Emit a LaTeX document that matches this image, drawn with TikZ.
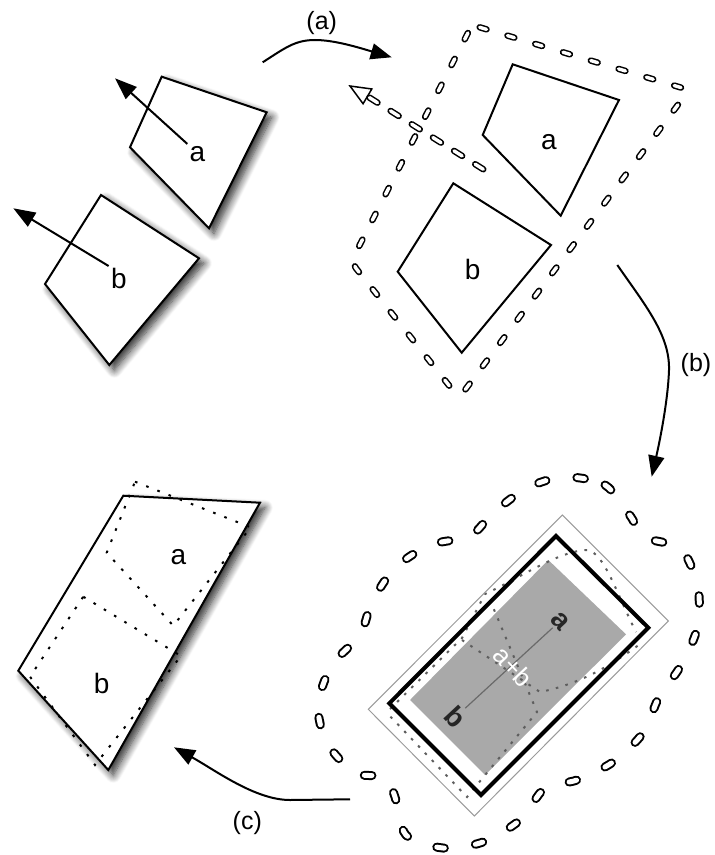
\documentclass[tikz,border=0pt]{standalone}
\usepackage{fontspec}
\setmainfont{Liberation Sans}
\usetikzlibrary{arrows.meta, shadows.blur}
\definecolor{fillgray}{HTML}{A9A9A9}
\definecolor{dotgray}{HTML}{5E5E5E}
\definecolor{boxgray}{HTML}{9A9A9A}
\definecolor{axisgray}{HTML}{6A6A6A}

\begin{document}
\begin{tikzpicture}[
    x=0.5pt, y=-0.5pt,
    piece/.style={
        draw=black, fill=white, line width=1pt, line join=miter,
        blur shadow={shadow xshift=2.5pt, shadow yshift=-2.5pt,
            shadow blur radius=4pt, shadow blur steps=10, shadow opacity=85}
    },
    outline/.style={draw=black, line width=1pt, line join=miter},
    capsule/.style={
        draw=black, line width=0.75pt, double=white, double distance=1.7pt,
        line cap=round, dash pattern=on 3.6pt off 10.9pt
    },
    bigcapsule/.style={
        draw=black, line width=1pt, double=white, double distance=2.5pt,
        line cap=round, dash pattern=on 3.8pt off 15.7pt
    },
    dotline/.style={draw=black, line width=1pt, dash pattern=on 1.3pt off 4.7pt},
    graydot/.style={draw=dotgray, line width=1pt, dash pattern=on 1.3pt off 3.7pt},
    letter/.style={font=\fontsize{14}{16}\selectfont, inner sep=1pt},
    boxletter/.style={font=\bfseries\fontsize{14}{16}\selectfont, text=black!85, inner sep=1pt, rotate=-47},
    phaselabel/.style={font=\fontsize{12.5}{15}\selectfont},
    vecarrow/.style={-{Triangle[length=11pt, width=8pt, fill=black]}, draw=black, line width=1pt, fill opacity=1},
    phasearrow/.style={-{Triangle[length=10.5pt, width=8pt, fill=black]}, draw=black, line width=1pt, fill opacity=1}
]
\useasboundingbox (0,0) rectangle (715,855);

% Pieces before (a)
\draw[piece] (161.7,76.7) -- (266.7,112.3) -- (209,228.3) -- (130,147.3) -- cycle;
\draw[piece] (101,195) -- (199,258.3) -- (109.3,365) -- (45,284) -- cycle;
\node[letter] (pa) at (197.5,154) {a};
\node[letter] (pb) at (118.8,278.7) {b};
\coordinate (pa tip) at (115,78.3);
\coordinate (pb tip) at (13.3,208.3);
\draw[vecarrow] (pa.north west) -- (pa tip);
\draw[vecarrow] (pb.north west) -- (pb tip);

% Grouped pieces after (a)
\draw[outline] (512.7,64.3) -- (619,100) -- (560.7,215.7) -- (482.7,135) -- cycle;
\draw[outline] (453.3,183.3) -- (551,245) -- (461.7,352.7) -- (397.7,271.7) -- cycle;
\node[letter] (ga) at (549,141.7) {a};
\node[letter] (gb) at (472.7,269.3) {b};
\draw[capsule, rounded corners=4pt] (472,25) -- (689,90) -- (459,398) -- (351,262) -- cycle;
\coordinate (gtail) at (483.3,169.3);
\coordinate (gbase) at (368,96.7);
\coordinate (gtip) at (348.3,85);
\draw[capsule, dash pattern=on 4.8pt off 7.7pt] (gtail) -- (gbase);
\draw[line width=0.75pt, -{Triangle[open, length=11.5pt, width=9.5pt]}] (gbase) -- (gtip);

% Merged box after (b)
\fill[fillgray] (548.3,560) -- (626,634.3) -- (485,775) -- (410,700) -- cycle;
\draw[graydot] (490,600) -- (537,712) -- (467,797) -- (387,713);
\draw[graydot] (390,709) -- (462,638) -- (485,594)
    .. controls (520,578) and (560,550) .. (588,550)
    .. controls (605,555) and (615,590) .. (636,632);
\draw[graydot] (462,640) -- (540,692) .. controls (575,685) and (605,670) .. (640,644);
\draw[line width=2pt, line join=miter] (556,536) -- (648.3,627.7) -- (481,795) -- (389.3,703.3) -- cycle;
\draw[boxgray, line width=0.5pt] (562.3,515) -- (668.3,621) -- (474.3,816) -- (368.3,709.3) -- cycle;
\node[boxletter] (ma) at (560,621) {a};
\node[boxletter] (mb) at (456,716.7) {b};
\draw[axisgray, line width=0.6pt] (mb) -- (ma);
\node[letter, text=white, rotate=-47, inner sep=0pt, font=\fontsize{13}{15}\selectfont] (mab) at (513.3,666.7) {a+b};
\draw[bigcapsule] plot[smooth cycle, tension=0.5] coordinates {
    (564,477) (605,485) (631,517) (643,537) (681,549) (698,588)
    (697,629) (680,667) (659,697) (643,733) (613,762) (577,780)
    (545,788) (520,820) (483,842) (443,848) (406,835) (395,797)
    (385,777) (355,773) (327,743) (318,705) (332,665) (360,635)
    (372,602) (395,568) (430,545) (470,536) (493,513) (527,488)};

% Final piece after (c)
\draw[piece] (123.3,495.7) -- (260,502.7) -- (108.3,770) -- (18.3,670.7) -- cycle;
\draw[dotline] (135,481.7) -- (250.7,527.3) -- (173.3,625.7) -- (106.7,552.7) -- cycle;
\draw[dotline] (83.3,596.7) -- (181,656) -- (95,765) -- (30,676.7) -- cycle;
\node[letter] (fa) at (178.3,556.7) {a};
\node[letter] (fb) at (101.7,683.3) {b};

% Phase arrows
\coordinate (a start) at (262.7,62.3);
\coordinate (a end) at (391.7,57.3);
\coordinate (b start) at (617.3,265);
\coordinate (b end) at (651.7,476.7);
\coordinate (c start) at (350,799.3);
\coordinate (c end) at (174,747.3);
\draw[phasearrow] (a start) .. controls (285,48) and (295,40) .. (315,40)
    .. controls (335,40) and (360,48) .. (a end);
\draw[phasearrow] (b start) .. controls (645,305) and (670,335) .. (669,370)
    .. controls (668,400) and (660,440) .. (b end);
\draw[phasearrow] (c start) -- (290,800) .. controls (255,800) and (215,770) .. (c end);
\node[phaselabel] (la) at (321.7,23.3) {(a)};
\node[phaselabel] (lb) at (696,365) {(b)};
\node[phaselabel] (lc) at (247.3,823.3) {(c)};

\end{tikzpicture}
\end{document}
